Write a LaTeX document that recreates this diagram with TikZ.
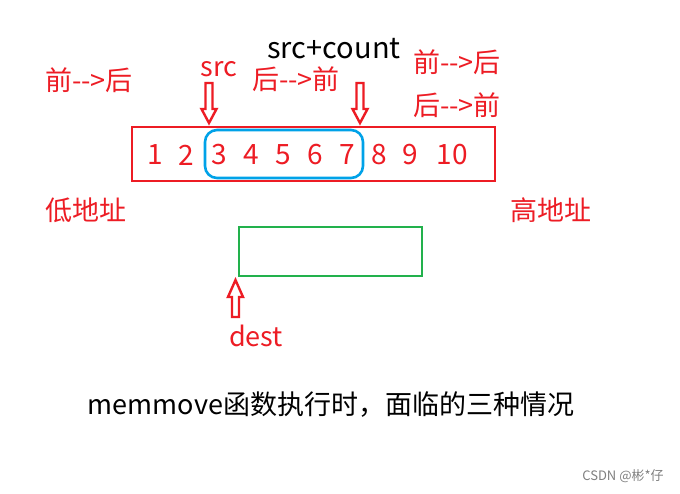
\documentclass[tikz,border=0pt]{standalone}
\usepackage{fontspec}
\setmainfont{Noto Sans CJK SC}
\definecolor{myred}{RGB}{237,28,36}
\definecolor{myblue}{RGB}{0,162,232}
\definecolor{mygreen}{RGB}{34,177,76}
\newcommand{\arr}{-{}-{}>}
\begin{document}
\begin{tikzpicture}[x=1pt,y=-1pt,
  rtxt/.style={text=myred,font=\fontsize{27}{31}\selectfont,inner sep=0pt},
  btxt/.style={text=black,font=\fontsize{27}{31}\selectfont,inner sep=0pt},
  hollow/.style={draw=myred,line width=2.4pt,line join=miter}]
\useasboundingbox[fill=white] (0,0) rectangle (680,494);
% memory box
\node[draw=myred,line width=2.6pt,minimum width=363pt,minimum height=54pt,inner sep=0pt] (mem) at (313.5,154) {};
\node[draw=myblue,line width=2.6pt,rounded corners=12pt,minimum width=158pt,minimum height=48pt,inner sep=0pt] (win) at (284,154) {};
\foreach \n/\x in {1/155,2/186,3/219,4/251,5/283,6/315,7/347,8/379,9/410,10/452}
  \node[rtxt,font=\fontsize{28}{32}\selectfont] (d\n) at (\x,155) {\n};
% labels
\node[rtxt] (l1) at (89,80) {前\arr 后};
\node[rtxt] (src) at (219,69) {src};
\node[rtxt] (l2) at (296,79) {后\arr 前};
\node[btxt,font=\fontsize{29}{33}\selectfont] (sc) at (334,49) {src+count};
\node[rtxt] (l3) at (457,62) {前\arr 后};
\node[rtxt] (l4) at (457,105) {后\arr 前};
\node[rtxt] (low) at (86,210) {低地址};
\node[rtxt] (high) at (551,210) {高地址};
% dest box
\node[draw=mygreen,line width=2.6pt,minimum width=183pt,minimum height=49pt,inner sep=0pt] (dst) at (330.5,251.5) {};
\node[rtxt] (dest) at (256,336) {dest};
% hollow arrows
\foreach \cx in {209,360}
  \draw[hollow] (\cx-3.5,83) -- (\cx+3.5,83) -- (\cx+3.5,109) -- (\cx+7.5,109) -- (\cx,123) -- (\cx-7.5,109) -- (\cx-3.5,109) -- cycle;
\draw[hollow] (232,317) -- (239,317) -- (239,297) -- (243,297) -- (235.5,280) -- (228,297) -- (232,297) -- cycle;
% caption
\node[btxt] (cap) at (331,405) {memmove函数执行时，面临的三种情况};
\node[text=gray,font=\fontsize{13}{15}\selectfont,inner sep=0pt] (wm) at (623,476) {CSDN @彬*仔};
\end{tikzpicture}
\end{document}
